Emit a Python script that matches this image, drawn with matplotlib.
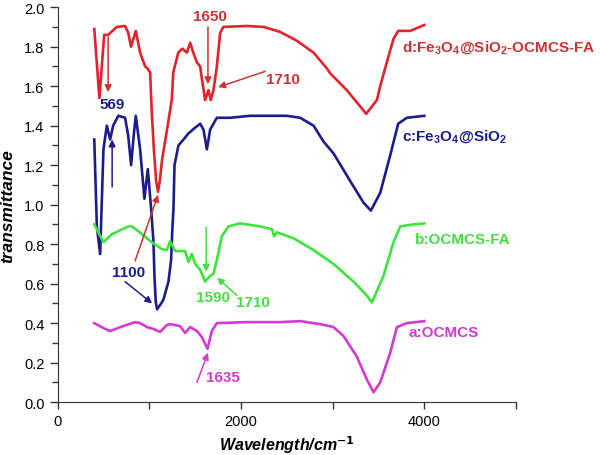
"""
FT-IR spectra of OCMCS, OCMCS-FA, Fe3O4@SiO2 and Fe3O4@SiO2-OCMCS-FA
"""
import matplotlib
matplotlib.use("Agg")
import matplotlib.pyplot as plt
from matplotlib.ticker import MultipleLocator, FormatStrFormatter

plt.rcParams["font.family"] = ["Liberation Sans", "DejaVu Sans"]
plt.rcParams["mathtext.fontset"] = "custom"
plt.rcParams["mathtext.rm"] = "Liberation Sans:bold"
plt.rcParams["mathtext.it"] = "Liberation Sans:bold:italic"
plt.rcParams["mathtext.default"] = "rm"

# spectra (wavenumber, transmittance)
d_x = [400, 456, 508, 551, 646, 736, 771, 800, 853, 900, 955, 980, 1009, 1027, 1050,
       1075, 1095, 1115, 1140, 1190, 1245, 1262, 1316, 1360, 1410, 1446, 1480, 1519,
       1555, 1573, 1609, 1645, 1671, 1700, 1737, 1773, 1808, 2064, 2250, 2428, 2610,
       2792, 2900, 2937, 2973, 3155, 3366, 3483, 3519, 3590, 3664, 3715, 3846, 4000]
d_y = [1.89, 1.54, 1.86, 1.86, 1.90, 1.905, 1.87, 1.80, 1.88, 1.77, 1.70, 1.69, 1.67, 1.47, 1.28,
       1.12, 1.065, 1.12, 1.23, 1.37, 1.53, 1.67, 1.77, 1.79, 1.77, 1.82, 1.77, 1.72,
       1.70, 1.64, 1.53, 1.58, 1.53, 1.58, 1.70, 1.87, 1.90, 1.905, 1.90, 1.875, 1.83,
       1.77, 1.71, 1.69, 1.665, 1.58, 1.46, 1.53, 1.60, 1.72, 1.84, 1.88, 1.88, 1.91]

c_x = [400, 428, 464, 500, 537, 573, 606, 662, 736, 770, 802, 830, 853, 900, 947, 984,
       1020, 1046, 1056, 1071, 1085, 1130, 1155, 1209, 1238, 1253, 1264, 1275, 1318, 1373,
       1426, 1500, 1555, 1591, 1628, 1664, 1737, 1882, 2100, 2319, 2501, 2646, 2792,
       2900, 3009, 3191, 3337, 3417, 3519, 3628, 3715, 3810, 4000]
c_y = [1.33, 0.89, 0.75, 1.28, 1.40, 1.33, 1.40, 1.45, 1.44, 1.35, 1.20, 1.35, 1.45, 1.28, 1.03, 1.18,
       0.98, 0.81, 0.64, 0.505, 0.47, 0.50, 0.52, 0.61, 0.72, 0.89, 0.98, 1.20, 1.30, 1.33,
       1.36, 1.39, 1.41, 1.38, 1.28, 1.38, 1.44, 1.44, 1.45, 1.45, 1.45, 1.44, 1.40,
       1.32, 1.26, 1.12, 1.01, 0.97, 1.06, 1.25, 1.41, 1.44, 1.45]

b_x = [400, 500, 591, 680, 773, 811, 882, 1027, 1137, 1191, 1227, 1282, 1391, 1427, 1464,
       1500, 1555, 1609, 1664, 1700, 1737, 1791, 1864, 1991, 2209, 2340, 2360, 2391, 2573,
       2646, 2792, 3009, 3228, 3373, 3428, 3555, 3664, 3737, 3878, 4000]
b_y = [0.90, 0.81, 0.85, 0.87, 0.89, 0.89, 0.865, 0.81, 0.775, 0.77, 0.815, 0.765, 0.765, 0.71, 0.75,
       0.70, 0.67, 0.61, 0.64, 0.65, 0.72, 0.84, 0.89, 0.905, 0.89, 0.875, 0.84, 0.86, 0.83,
       0.81, 0.77, 0.70, 0.61, 0.54, 0.505, 0.64, 0.81, 0.89, 0.90, 0.905]

a_x = [400, 500, 573, 716, 845, 900, 975, 1050, 1118, 1191, 1227, 1336, 1391, 1446, 1519,
       1573, 1635, 1682, 1737, 2064, 2428, 2646, 2864, 3009, 3118, 3264, 3373, 3446, 3519,
       3628, 3701, 3810, 4000]
a_y = [0.40, 0.375, 0.36, 0.385, 0.405, 0.40, 0.38, 0.37, 0.355, 0.39, 0.395, 0.385, 0.35, 0.38, 0.36,
       0.33, 0.27, 0.36, 0.40, 0.405, 0.405, 0.41, 0.395, 0.38, 0.335, 0.23, 0.115, 0.05, 0.10,
       0.25, 0.38, 0.40, 0.41]

series_names = [r"d:Fe$_3$O$_4$@SiO$_2$-OCMCS-FA", r"c:Fe$_3$O$_4$@SiO$_2$",
                "b:OCMCS-FA", "a:OCMCS"]
name_pos = [(3760, 1.80), (3760, 1.35), (3900, 0.825), (3830, 0.355)]

# peak labels: text, text position, arrow tail, arrow head
peak_text = ["1650", "1710", "569", "1100", "1590", "1710", "1635"]
peak_text_pos = [(1664, 1.955), (2460, 1.635), (595, 1.51), (770, 0.66),
                 (1697, 0.53), (2134, 0.505), (1805, 0.125)]
arrow_tail = [(1640, 1.90), (2264, 1.675), (551, 1.85), (595, 1.09),
              (736, 0.61), (845, 0.715), (1620, 0.885), (1957, 0.54), (1520, 0.10)]
arrow_head = [(1640, 1.61), (1751, 1.595), (551, 1.57), (595, 1.33),
              (1031, 0.50), (1096, 1.05), (1620, 0.66), (1740, 0.63), (1640, 0.25)]

RED, BLUE, GREEN, MAG = "#e3222b", "#1c1c8c", "#3fe33f", "#d23ad2"
RED_T = "#cc3333"
line_colors = [RED, BLUE, GREEN, MAG]
text_colors = [RED_T, BLUE, "#44dd44", MAG]
peak_colors = [RED_T, RED_T, BLUE, BLUE, "#44dd44", "#44dd44", MAG]
arrow_colors = [RED_T, RED_T, RED_T, BLUE, BLUE, RED_T, "#44dd44", "#44dd44", MAG]

fig = plt.figure(figsize=(6, 4.56), dpi=100)
ax = fig.add_axes((0.096, 0.116, 0.764, 0.866))

for xs, ys, col in zip([d_x, c_x, b_x, a_x], [d_y, c_y, b_y, a_y], line_colors):
    ax.plot(xs, ys, color=col, lw=1.9, solid_joinstyle="round")

for name, pos, col in zip(series_names, name_pos, text_colors):
    ax.text(pos[0], pos[1], name, color=col, fontsize=11, fontweight="bold",
            ha="left", va="center")

for t, pos, col in zip(peak_text, peak_text_pos, peak_colors):
    ax.text(pos[0], pos[1], t, color=col, fontsize=11, fontweight="bold",
            ha="center", va="center")

for tail, head, col in zip(arrow_tail, arrow_head, arrow_colors):
    ax.annotate("", xy=head, xytext=tail,
                arrowprops=dict(arrowstyle="-|>", color=col, lw=1.1,
                                mutation_scale=10, shrinkA=0, shrinkB=0))

ax.set_xlim(0, 5000)
ax.set_ylim(0, 2.0)
ax.spines["top"].set_visible(False)
ax.spines["right"].set_visible(False)
ax.spines["left"].set_color("#333333")
ax.spines["bottom"].set_color("#333333")
ax.xaxis.set_major_locator(MultipleLocator(2000))
ax.xaxis.set_minor_locator(MultipleLocator(1000))
ax.yaxis.set_major_locator(MultipleLocator(0.2))
ax.yaxis.set_minor_locator(MultipleLocator(0.1))
ax.yaxis.set_major_formatter(FormatStrFormatter("%.1f"))
ax.tick_params(which="major", length=6, width=1, color="#333333", labelsize=10.5)
ax.tick_params(which="minor", length=4, width=1, color="#333333")
ax.tick_params(axis="x", which="both", length=5)

ax.set_ylabel("transmittance", fontsize=12.5, fontweight="bold", fontstyle="italic")
ax.yaxis.set_label_coords(-0.092, 0.5)
ax.set_xlabel(r"Wavelength/cm$^{\mathbf{-1}}$", fontsize=11.5, fontweight="bold",
              fontstyle="italic", labelpad=4)

fig.savefig("out.png", dpi=100)
